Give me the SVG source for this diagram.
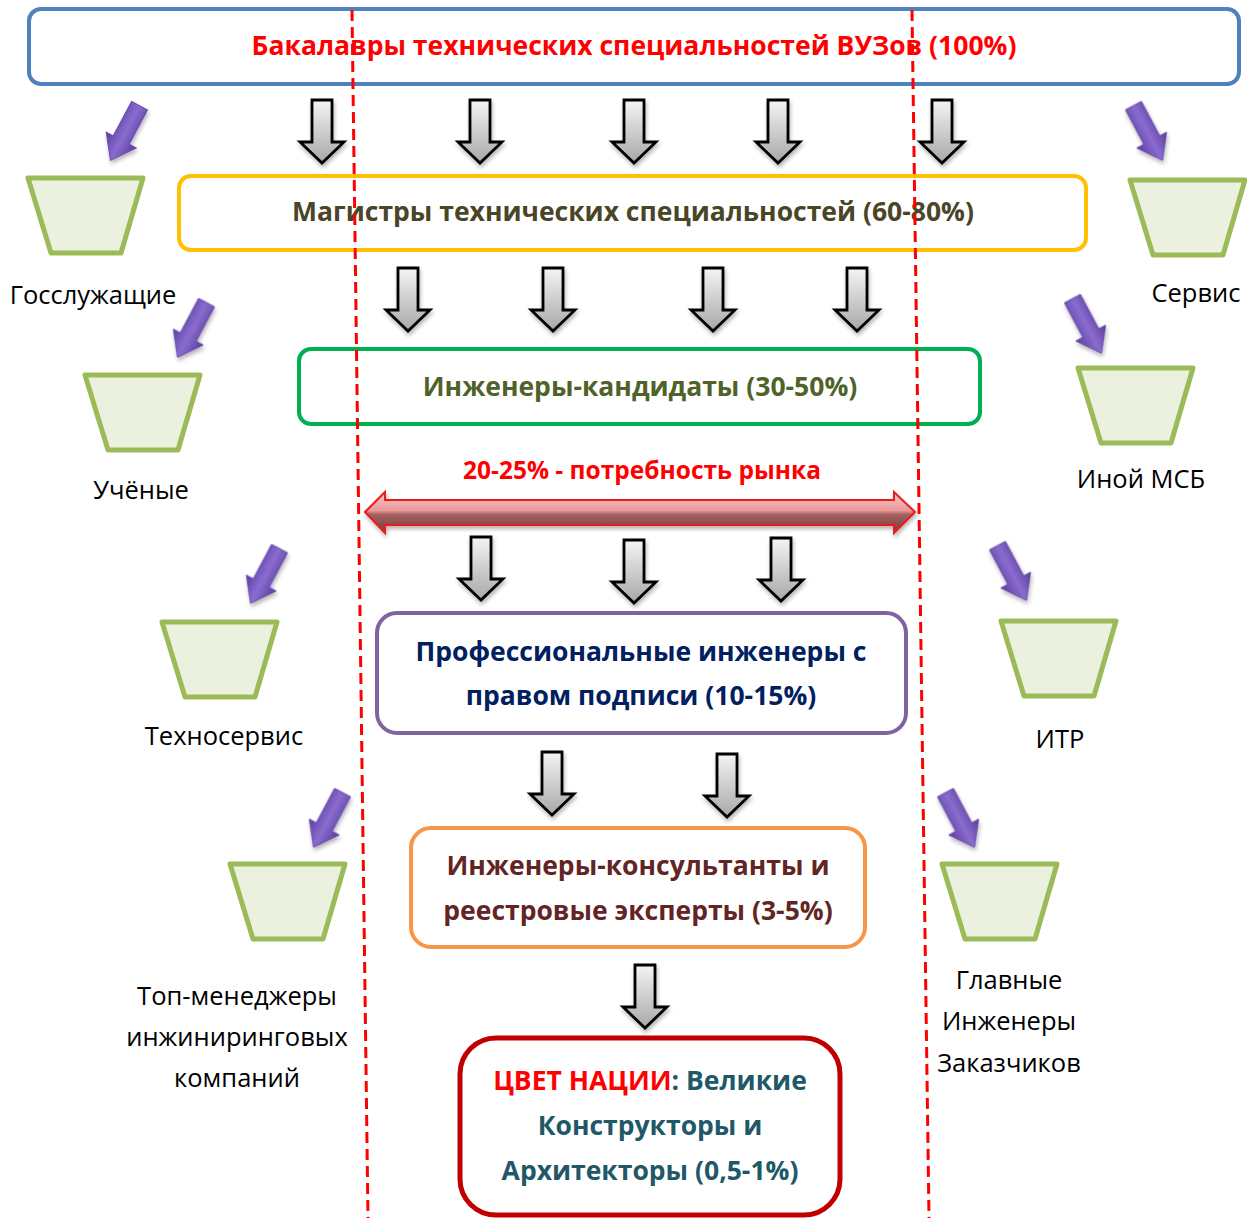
<svg xmlns="http://www.w3.org/2000/svg" xmlns:xlink="http://www.w3.org/1999/xlink" width="1247" height="1218" viewBox="0 0 1247 1218">
<style>
.box{fill:#fff;stroke-width:4}
.t{font-family:"Open Sans","Liberation Sans",sans-serif;font-weight:bold;font-size:26.5px;text-anchor:middle}
.lbl{font-family:"Open Sans","Liberation Sans",sans-serif;font-size:25.5px;text-anchor:middle;fill:#000}
.trap{fill:#EBF1DE;stroke:#9BBB59;stroke-width:5;stroke-linejoin:round}
.dash{stroke:#FF0000;stroke-width:3;stroke-dasharray:11,6;fill:none}
</style>
<defs>
<linearGradient id="gg" x1="0" y1="0" x2="0" y2="1">
<stop offset="0" stop-color="#f4f4f4"/><stop offset="1" stop-color="#a8a8a8"/>
</linearGradient>
<linearGradient id="pg" x1="0" y1="0" x2="1" y2="0">
<stop offset="0" stop-color="#5b3f9e"/><stop offset="0.5" stop-color="#8a6cd0"/><stop offset="1" stop-color="#5a3c98"/>
</linearGradient>
<linearGradient id="rg" x1="0" y1="0" x2="0" y2="1">
<stop offset="0" stop-color="#fbc4c4"/><stop offset="0.45" stop-color="#eb9a9a"/><stop offset="0.55" stop-color="#a56060"/><stop offset="1" stop-color="#7a3c3c"/>
</linearGradient>
<filter id="sh" x="-30%" y="-30%" width="160%" height="160%">
<feGaussianBlur in="SourceAlpha" stdDeviation="2"/><feOffset dx="1" dy="3"/>
<feComponentTransfer><feFuncA type="linear" slope="0.3"/></feComponentTransfer>
<feMerge><feMergeNode/><feMergeNode in="SourceGraphic"/></feMerge>
</filter>
<path id="garrow" d="M-10,0 H10 V42 H22 L0,63 L-22,42 H-10 Z" fill="url(#gg)" stroke="#000" stroke-width="2.8" stroke-linejoin="miter"/>
<path id="parrow" d="M-9,-31 H9 V8 H17 L0,31 L-17,8 H-9 Z" fill="url(#pg)" stroke="#6a4cb0" stroke-width="1"/>
</defs>

<g id="n-bachelors">
<rect class="box" x="29" y="9" width="1210" height="75" rx="12" stroke="#4F81BD"/>
<text class="t" x="634" y="55" fill="#FF0000">Бакалавры технических специальностей ВУЗов (100%)</text>
</g>
<g id="n-masters">
<rect class="box" x="179" y="176" width="907" height="74" rx="12" stroke="#FFC000"/>
<text class="t" x="633" y="221" fill="#4A4526">Магистры технических специальностей (60-80%)</text>
</g>
<g id="n-candidates">
<rect class="box" x="299" y="349" width="681" height="75" rx="12" stroke="#00B050"/>
<text class="t" x="640" y="396" fill="#4F6228">Инженеры-кандидаты (30-50%)</text>
</g>
<g id="n-market">
<text class="t" x="642" y="479" fill="#FF0000" style="font-size:24.5px">20-25% - потребность рынка</text>
</g>
<g id="n-professional">
<rect class="box" x="377" y="613" width="529" height="120" rx="20" stroke="#8064A2"/>
<text class="t" x="641" y="661" fill="#002060">Профессиональные инженеры с</text>
<text class="t" x="641" y="705" fill="#002060">правом подписи (10-15%)</text>
</g>
<g id="n-consultants">
<rect class="box" x="411" y="828" width="454" height="119" rx="20" stroke="#F79646"/>
<text class="t" x="638" y="875" fill="#632523">Инженеры-консультанты и</text>
<text class="t" x="638" y="920" fill="#632523">реестровые эксперты (3-5%)</text>
</g>
<g id="n-elite">
<rect x="460" y="1038" width="380" height="177" rx="36" fill="#fff" stroke="#C00000" stroke-width="5"/>
<text class="t" x="650" y="1090" fill="#215868"><tspan fill="#FF0000">ЦВЕТ НАЦИИ</tspan>: Великие</text>
<text class="t" x="650" y="1135" fill="#215868">Конструкторы и</text>
<text class="t" x="650" y="1180" fill="#215868">Архитекторы (0,5-1%)</text>
</g>

<g id="n-gos">
<polygon class="trap" points="28,178 143,178 121,253 51,253"/>
<text class="lbl" x="93" y="304">Госслужащие</text>
</g>
<g id="n-uch">
<polygon class="trap" points="85,375 200,375 178,450 108,450"/>
<text class="lbl" x="141" y="499">Учёные</text>
</g>
<g id="n-tehno">
<polygon class="trap" points="162,622 277,622 255,697 185,697"/>
<text class="lbl" x="224" y="745">Техносервис</text>
</g>
<g id="n-top">
<polygon class="trap" points="230,864 345,864 323,939 253,939"/>
<text class="lbl" x="237" y="1005">Топ-менеджеры</text>
<text class="lbl" x="237" y="1046">инжиниринговых</text>
<text class="lbl" x="237" y="1087">компаний</text>
</g>
<g id="n-servis">
<polygon class="trap" points="1130,180 1245,180 1223,255 1153,255"/>
<text class="lbl" x="1196" y="302">Сервис</text>
</g>
<g id="n-msb">
<polygon class="trap" points="1078,368 1193,368 1171,443 1101,443"/>
<text class="lbl" x="1141" y="488">Иной МСБ</text>
</g>
<g id="n-itr">
<polygon class="trap" points="1001,621 1116,621 1094,696 1024,696"/>
<text class="lbl" x="1060" y="748">ИТР</text>
</g>
<g id="n-glav">
<polygon class="trap" points="942,864 1057,864 1035,939 965,939"/>
<text class="lbl" x="1009" y="989">Главные</text>
<text class="lbl" x="1009" y="1030">Инженеры</text>
<text class="lbl" x="1009" y="1072">Заказчиков</text>
</g>

<g id="connectors">
<g filter="url(#sh)">
<use xlink:href="#garrow" x="322" y="100"/>
<use xlink:href="#garrow" x="480" y="100"/>
<use xlink:href="#garrow" x="634" y="100"/>
<use xlink:href="#garrow" x="778" y="100"/>
<use xlink:href="#garrow" x="942" y="100"/>
<use xlink:href="#garrow" x="408" y="268"/>
<use xlink:href="#garrow" x="553" y="268"/>
<use xlink:href="#garrow" x="713" y="268"/>
<use xlink:href="#garrow" x="857" y="268"/>
<use xlink:href="#garrow" x="481" y="537"/>
<use xlink:href="#garrow" x="634" y="540"/>
<use xlink:href="#garrow" x="781" y="538"/>
<use xlink:href="#garrow" x="552" y="752"/>
<use xlink:href="#garrow" x="727" y="754"/>
<use xlink:href="#garrow" x="645" y="965"/>
</g>
<g filter="url(#sh)">
<use xlink:href="#parrow" transform="translate(125,133) rotate(28)"/>
<use xlink:href="#parrow" transform="translate(192,330) rotate(28)"/>
<use xlink:href="#parrow" transform="translate(265,576) rotate(28)"/>
<use xlink:href="#parrow" transform="translate(328,820) rotate(28)"/>
<use xlink:href="#parrow" transform="translate(1148,133) rotate(-28)"/>
<use xlink:href="#parrow" transform="translate(1087,326) rotate(-28)"/>
<use xlink:href="#parrow" transform="translate(1012,573) rotate(-28)"/>
<use xlink:href="#parrow" transform="translate(960,820) rotate(-28)"/>
</g>
<path d="M365,512 L385,492 V500 H894 V492 L915,512 L894,533 V525 H385 V533 Z" fill="url(#rg)" stroke="#E81C1C" stroke-width="2" stroke-linejoin="miter" filter="url(#sh)"/>
<line class="dash" x1="352" y1="10" x2="368" y2="1218"/>
<line class="dash" x1="912" y1="10" x2="929" y2="1218"/>
</g>
</svg>
